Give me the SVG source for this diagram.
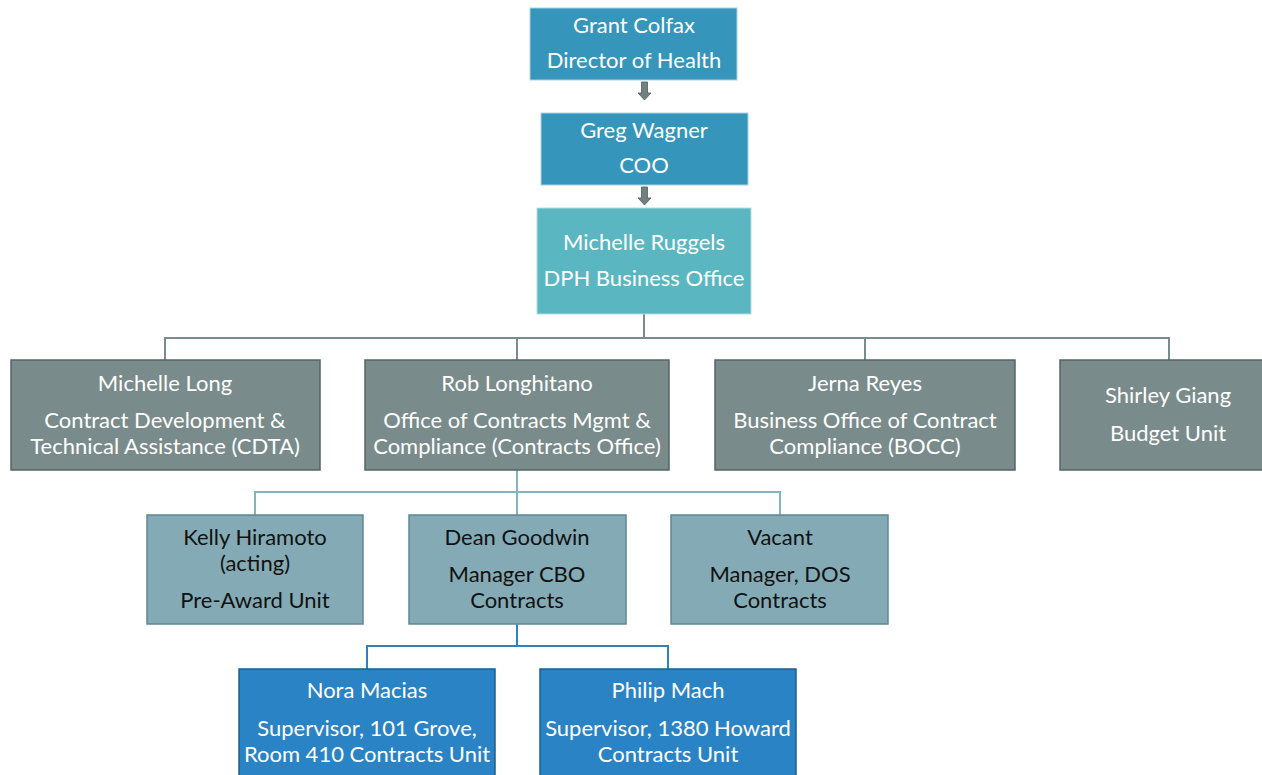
<svg xmlns="http://www.w3.org/2000/svg" width="1262" height="775" viewBox="0 0 1262 775">
<style>
text{font-family:Lato,"Open Sans","Liberation Sans",sans-serif;font-size:22px;text-anchor:middle}
.w{fill:#ffffff}
.k{fill:#111111}
.top{fill:#3595bb;stroke:#a9d3e3;stroke-width:1}
.mid{fill:#5ab6c1;stroke:#b5dde2;stroke-width:1}
.gray{fill:#7a8b8b;stroke:#566464;stroke-width:1.5}
.teal{fill:#84abb5;stroke:#5f8894;stroke-width:1.5}
.blue{fill:#2a83c5;stroke:#1d5f90;stroke-width:1.5}
.arr{fill:#6f8181;stroke:#4f5d5d;stroke-width:0.8}
.c1{fill:none;stroke:#7a8b8b;stroke-width:2}
.c2{fill:none;stroke:#86b3c0;stroke-width:2}
.c3{fill:none;stroke:#2d83c4;stroke-width:2}
</style>
<rect width="1262" height="775" fill="#ffffff"/>
<g id="connectors">
<path class="arr" d="M641.5,82 H647.5 V93 H651 L644.5,100 L638,93 H641.5 Z"/>
<path class="arr" d="M641.5,187 H647.5 V198 H651 L644.5,205 L638,198 H641.5 Z"/>
<path class="c1" d="M644,314 V338 M165,360 V338 H1169 V360 M517,338 V360 M865,338 V360"/>
<path class="c2" d="M517,470 V492 M255,515 V492 H780 V515 M517,492 V515"/>
<path class="c3" d="M517,624 V646 M367,669 V646 H668 V669"/>
</g>
<g id="grant-colfax">
<rect class="top" x="530" y="8" width="207" height="72"/>
<text class="w" x="634" y="33">Grant Colfax</text>
<text class="w" x="634" y="68">Director of Health</text>
</g>
<g id="greg-wagner">
<rect class="top" x="541" y="113" width="207" height="72"/>
<text class="w" x="644" y="138">Greg Wagner</text>
<text class="w" x="644" y="173">COO</text>
</g>
<g id="michelle-ruggels">
<rect class="mid" x="537" y="208" width="214" height="106"/>
<text class="w" x="644" y="250">Michelle Ruggels</text>
<text class="w" x="644" y="286">DPH Business Office</text>
</g>
<g id="michelle-long">
<rect class="gray" x="11" y="360" width="309" height="110"/>
<text class="w" x="165" y="391">Michelle Long</text>
<text class="w" x="165" y="428">Contract Development &amp;</text>
<text class="w" x="165" y="454">Technical Assistance (CDTA)</text>
</g>
<g id="rob-longhitano">
<rect class="gray" x="365" y="360" width="304" height="110"/>
<text class="w" x="517" y="391">Rob Longhitano</text>
<text class="w" x="517" y="428">Office of Contracts Mgmt &amp;</text>
<text class="w" x="517" y="454">Compliance (Contracts Office)</text>
</g>
<g id="jerna-reyes">
<rect class="gray" x="715" y="360" width="300" height="110"/>
<text class="w" x="865" y="391">Jerna Reyes</text>
<text class="w" x="865" y="428">Business Office of Contract</text>
<text class="w" x="865" y="454">Compliance (BOCC)</text>
</g>
<g id="shirley-giang">
<rect class="gray" x="1060" y="360" width="220" height="110"/>
<text class="w" x="1168" y="403">Shirley Giang</text>
<text class="w" x="1168" y="441">Budget Unit</text>
</g>
<g id="kelly-hiramoto">
<rect class="teal" x="147" y="515" width="216" height="109"/>
<text class="k" x="255" y="545">Kelly Hiramoto</text>
<text class="k" x="255" y="571">(acting)</text>
<text class="k" x="255" y="608">Pre-Award Unit</text>
</g>
<g id="dean-goodwin">
<rect class="teal" x="409" y="515" width="217" height="109"/>
<text class="k" x="517" y="545">Dean Goodwin</text>
<text class="k" x="517" y="582">Manager CBO</text>
<text class="k" x="517" y="608">Contracts</text>
</g>
<g id="vacant">
<rect class="teal" x="671" y="515" width="217" height="109"/>
<text class="k" x="780" y="545">Vacant</text>
<text class="k" x="780" y="582">Manager, DOS</text>
<text class="k" x="780" y="608">Contracts</text>
</g>
<g id="nora-macias">
<rect class="blue" x="239" y="669" width="256" height="112"/>
<text class="w" x="367" y="698">Nora Macias</text>
<text class="w" x="367" y="736">Supervisor, 101 Grove,</text>
<text class="w" x="367" y="762">Room 410 Contracts Unit</text>
</g>
<g id="philip-mach">
<rect class="blue" x="540" y="669" width="256" height="112"/>
<text class="w" x="668" y="698">Philip Mach</text>
<text class="w" x="668" y="736">Supervisor, 1380 Howard</text>
<text class="w" x="668" y="762">Contracts Unit</text>
</g>
</svg>
